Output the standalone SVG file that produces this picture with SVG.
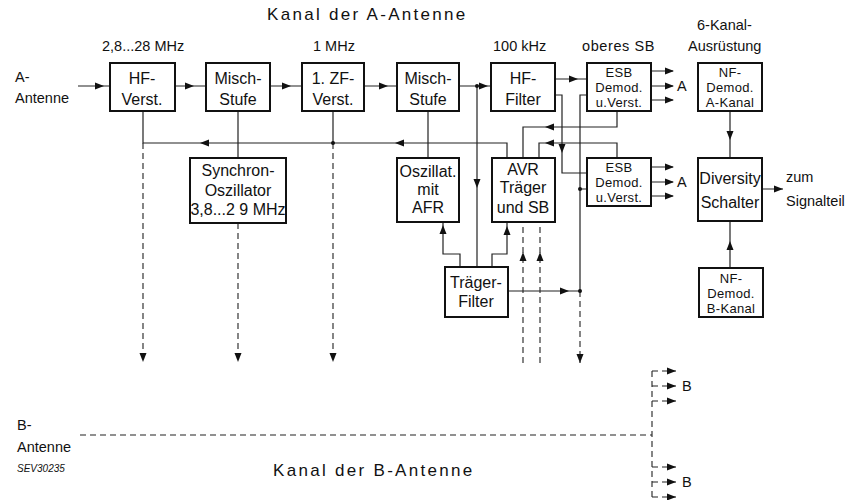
<svg xmlns="http://www.w3.org/2000/svg" xmlns:xlink="http://www.w3.org/1999/xlink" width="857" height="500" viewBox="0 0 857 500">
<style>
text{font-family:"Liberation Sans","DejaVu Sans",Arial,sans-serif;fill:#111;}
.bt{font-size:16px;text-anchor:middle;}
.b3{font-size:13px;text-anchor:middle;letter-spacing:0.3px;}
.lb{font-size:14.5px;}
.ti{font-size:17px;letter-spacing:2.3px;}
.box{fill:#fff;stroke:#111;stroke-width:2;}
.ln{fill:none;stroke:#222;stroke-width:1.2;}
.ds{fill:none;stroke:#222;stroke-width:1.1;stroke-dasharray:6,4;}
.ar{fill:#111;}
.dot{fill:#111;}
</style>
<defs>
<path id="tri" d="M0,0 L-9,-3.5 L-9,3.5 Z"/>
</defs>
<rect width="857" height="500" fill="#fff"/>

<text class="ti" x="267" y="20">Kanal der A-Antenne</text>
<text class="lb" x="102" y="51">2,8...28 MHz</text>
<text class="lb" x="313" y="51">1 MHz</text>
<text class="lb" x="493" y="51">100 kHz</text>
<text class="lb" x="582" y="51" letter-spacing="0.6">oberes SB</text>
<text class="lb" x="697" y="30">6-Kanal-</text>
<text class="lb" x="688" y="51">Ausrüstung</text>
<text class="lb" x="15" y="82">A-</text>
<text class="lb" x="15" y="103">Antenne</text>

<g id="connectors">
<path class="ln" d="M78,86 H110 M175,86 H206 M270,86 H302 M364,86 H397 M459,86 H491 M555,79 H587"/>
<path class="ln" d="M555,95 H562 V173 H587"/>
<path class="ln" d="M143,111 V143 H507 V158"/>
<path class="ln" d="M238,111 V158 M333,111 V143 M428,111 V158"/>
<path class="ln" d="M477,86 V267"/>
<path class="ln" d="M617,111 V127 H523 V158"/>
<path class="ln" d="M617,158 V143 H539 V158"/>
<path class="ln" d="M587,95 H580 V291 H508 M580,189 H587"/>
<path class="ln" d="M460,267 V254 H443 V222 M492,267 V254 H507 V222"/>
<path class="ln" d="M730,111 V158 M730,268 V221 M762,189 H783"/>
<path class="ln" d="M651,71 H673 M651,86 H673 M651,100 H673 M651,167 H673 M651,182 H673 M651,196 H673"/>
<path class="ds" d="M143,143 V362 M238,223 V362 M333,143 V362 M580,291 V363 M523,363 V222 M540,363 V222"/>
<path class="ds" d="M80,435 H652 M652,371 V500 M652,371 H676 M652,386 H676 M652,401 H676 M652,467 H676 M652,482 H676 M652,497 H676"/>
<g class="ar">
<use xlink:href="#tri" transform="translate(104,86)"/>
<use xlink:href="#tri" transform="translate(194,86)"/>
<use xlink:href="#tri" transform="translate(291,86)"/>
<use xlink:href="#tri" transform="translate(388,86)"/>
<use xlink:href="#tri" transform="translate(488,86)"/>
<use xlink:href="#tri" transform="translate(578,79)"/>
<use xlink:href="#tri" transform="translate(562,153) rotate(90)"/>
<use xlink:href="#tri" transform="translate(200,143) rotate(180)"/>
<use xlink:href="#tri" transform="translate(395,143) rotate(180)"/>
<use xlink:href="#tri" transform="translate(477,188) rotate(90)"/>
<use xlink:href="#tri" transform="translate(545,127) rotate(180)"/>
<use xlink:href="#tri" transform="translate(545,143) rotate(180)"/>
<use xlink:href="#tri" transform="translate(569,291)"/>
<use xlink:href="#tri" transform="translate(443,225) rotate(-90)"/>
<use xlink:href="#tri" transform="translate(507,226) rotate(-90)"/>
<use xlink:href="#tri" transform="translate(523,252) rotate(-90)"/>
<use xlink:href="#tri" transform="translate(540,252) rotate(-90)"/>
<use xlink:href="#tri" transform="translate(580,363) rotate(90)"/>
<use xlink:href="#tri" transform="translate(143,362) rotate(90)"/>
<use xlink:href="#tri" transform="translate(238,362) rotate(90)"/>
<use xlink:href="#tri" transform="translate(333,362) rotate(90)"/>
<use xlink:href="#tri" transform="translate(730,140) rotate(90)"/>
<use xlink:href="#tri" transform="translate(730,241) rotate(-90)"/>
<use xlink:href="#tri" transform="translate(783,189)"/>
<use xlink:href="#tri" transform="translate(674,71)"/>
<use xlink:href="#tri" transform="translate(674,86)"/>
<use xlink:href="#tri" transform="translate(674,100)"/>
<use xlink:href="#tri" transform="translate(674,167)"/>
<use xlink:href="#tri" transform="translate(674,182)"/>
<use xlink:href="#tri" transform="translate(674,196)"/>
<use xlink:href="#tri" transform="translate(676,371)"/>
<use xlink:href="#tri" transform="translate(676,386)"/>
<use xlink:href="#tri" transform="translate(676,401)"/>
<use xlink:href="#tri" transform="translate(676,467)"/>
<use xlink:href="#tri" transform="translate(676,482)"/>
<use xlink:href="#tri" transform="translate(676,497)"/>
</g>
<g class="dot">
<circle cx="333" cy="143" r="2"/>
<circle cx="477" cy="86" r="2"/>
<circle cx="580" cy="189" r="2"/>
<circle cx="580" cy="291" r="2"/>
</g>
</g>

<g id="hf"><rect class="box" x="110" y="63" width="65" height="48"/><text class="bt" x="142" y="84">HF-</text><text class="bt" x="142" y="105">Verst.</text></g>
<g id="misch1"><rect class="box" x="206" y="63" width="64" height="48"/><text class="bt" x="238" y="84">Misch-</text><text class="bt" x="238" y="105">Stufe</text></g>
<g id="zf"><rect class="box" x="302" y="63" width="62" height="48"/><text class="bt" x="333" y="84">1. ZF-</text><text class="bt" x="333" y="105">Verst.</text></g>
<g id="misch2"><rect class="box" x="397" y="63" width="62" height="48"/><text class="bt" x="428" y="84">Misch-</text><text class="bt" x="428" y="105">Stufe</text></g>
<g id="hffilter"><rect class="box" x="491" y="63" width="64" height="48"/><text class="bt" x="523" y="84">HF-</text><text class="bt" x="523" y="105">Filter</text></g>
<g id="esb1"><rect class="box" x="587" y="63" width="64" height="48"/><text class="b3" x="619" y="77">ESB</text><text class="b3" x="619" y="92">Demod.</text><text class="b3" x="619" y="107">u.Verst.</text></g>
<g id="nfa"><rect class="box" x="698" y="63" width="64" height="48"/><text class="b3" x="730" y="77">NF-</text><text class="b3" x="730" y="92">Demod.</text><text class="b3" x="730" y="107">A-Kanal</text></g>
<g id="sync"><rect class="box" x="190" y="158" width="96" height="65"/><text class="bt" x="238" y="176">Synchron-</text><text class="bt" x="238" y="196">Oszillator</text><text class="bt" x="238" y="215">3,8...2 9 MHz</text></g>
<g id="osz"><rect class="box" x="397" y="158" width="62" height="64"/><text class="bt" x="428" y="177">Oszillat.</text><text class="bt" x="428" y="195">mit</text><text class="bt" x="428" y="213">AFR</text></g>
<g id="avr"><rect class="box" x="492" y="158" width="63" height="64"/><text class="bt" x="523" y="175">AVR</text><text class="bt" x="523" y="193">Träger</text><text class="bt" x="523" y="213">und SB</text></g>
<g id="esb2"><rect class="box" x="587" y="158" width="64" height="48"/><text class="b3" x="619" y="172">ESB</text><text class="b3" x="619" y="187">Demod.</text><text class="b3" x="619" y="202">u.Verst.</text></g>
<g id="traeger"><rect class="box" x="445" y="267" width="63" height="50"/><text class="bt" x="476" y="288">Träger-</text><text class="bt" x="476" y="307">Filter</text></g>
<g id="div"><rect class="box" x="698" y="158" width="64" height="63"/><text class="bt" x="730" y="184">Diversity</text><text class="bt" x="730" y="208">Schalter</text></g>
<g id="nfb"><rect class="box" x="699" y="268" width="64" height="49"/><text class="b3" x="731" y="283">NF-</text><text class="b3" x="731" y="298">Demod.</text><text class="b3" x="731" y="313">B-Kanal</text></g>

<text class="lb" x="677" y="91">A</text>
<text class="lb" x="677" y="187">A</text>
<text class="lb" x="786" y="182">zum</text>
<text class="lb" x="786" y="206">Signalteil</text>
<text class="lb" x="682" y="391">B</text>
<text class="lb" x="682" y="487">B</text>
<text class="lb" x="17" y="430">B-</text>
<text class="lb" x="17" y="452">Antenne</text>
<text x="17" y="472" font-size="10" font-style="italic">SEV30235</text>
<text class="ti" x="273" y="476">Kanal der B-Antenne</text>
</svg>
